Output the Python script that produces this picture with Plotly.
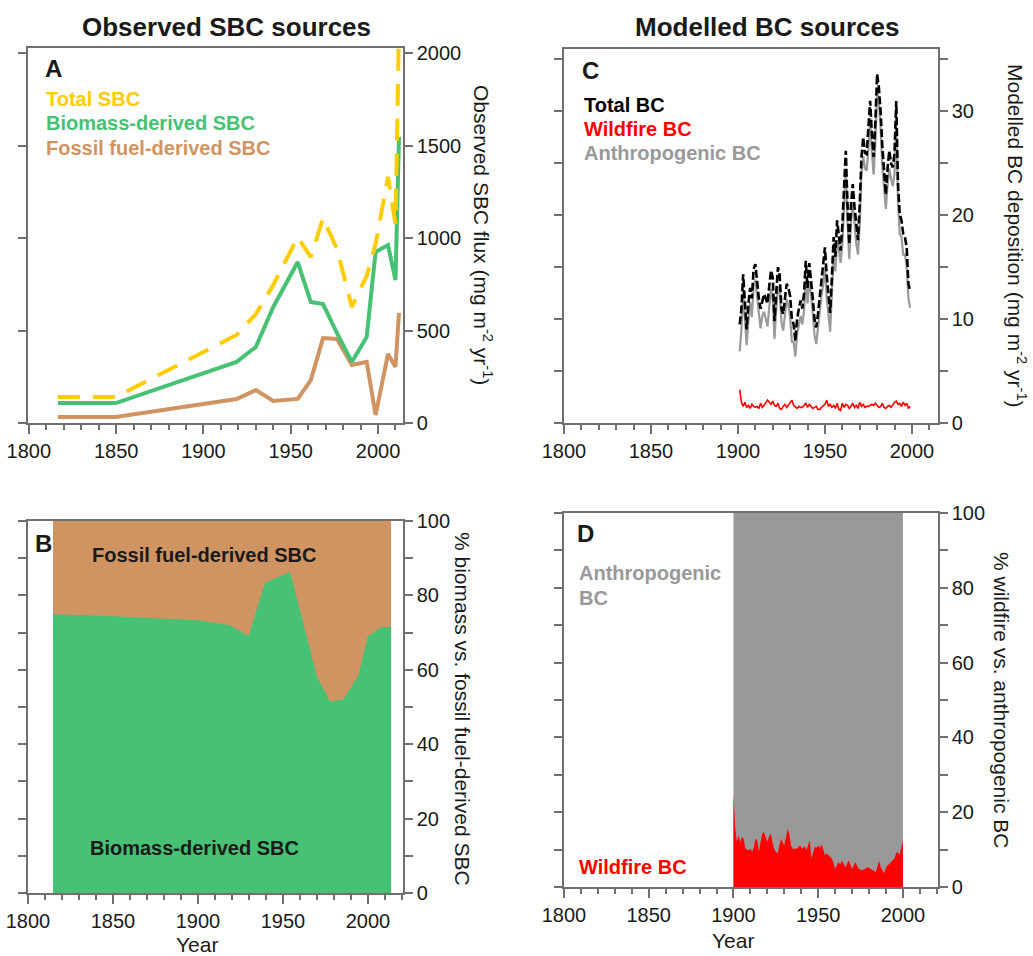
import plotly.graph_objects as go

# ---------------- DATA ----------------
# Panel A: observed SBC flux (mg m-2 yr-1)
a_years = [1816.6, 1849.8, 1919, 1930, 1940, 1954, 1961.5, 1968.5, 1976.5, 1985, 1993.5, 1998.6, 2005.7, 2010, 2012]
a_total = [140, 140, 476, 589, 746, 1005, 897, 1108, 940, 627, 795, 967, 1330, 1076, 2141]
a_biomass = [108, 108, 330, 411, 627, 870, 654, 643, 486, 330, 465, 924, 962, 773, 1546]
a_fossil = [32, 32, 130, 178, 119, 130, 232, 459, 454, 314, 330, 43, 373, 303, 595]

# Panel B: % biomass-derived SBC
b_years = [1814.7, 1850, 1900, 1918.9, 1929.7, 1939.5, 1954.2, 1970, 1977.8, 1985.7, 1994.5, 1999.8, 2007.3, 2013.6]
b_biomass_pct = [74.9, 74.4, 73.3, 72.0, 69.1, 83.4, 86.3, 58.1, 51.4, 52.1, 58.6, 68.9, 71.4, 71.6]
b_span = [1814.7, 2013.6]
b_full = [100, 100]

# Panel C: modelled BC deposition (mg m-2 yr-1), 1901-1999
c_years = list(range(1901, 2000))
c_total = [9.5, 11.0, 14.3, 12.0, 9.0, 11.5, 13.0, 12.0, 14.8, 15.3,
           13.5, 12.0, 11.0, 11.8, 12.4, 12.0, 11.5, 13.2, 14.7, 14.0,
           9.8, 12.5, 15.0, 14.2, 11.0, 10.5, 12.0, 13.4, 13.0, 12.2,
           10.0, 9.5, 7.9, 10.0, 11.0, 11.8, 11.0, 12.5, 15.6, 13.0,
           15.4, 14.0, 12.0, 10.0, 9.2, 10.5, 12.0, 13.7, 15.0, 16.9,
           14.3, 12.0, 10.6, 14.0, 17.9, 16.0, 19.5, 18.0, 16.6, 19.0,
           22.0, 26.2, 21.0, 17.2, 21.0, 23.0, 20.8, 19.0, 17.6, 21.0,
           25.6, 27.5, 26.0, 25.9, 28.0, 31.0, 27.8, 25.6, 29.0, 33.6,
           32.3, 30.0, 26.6, 24.0, 22.0, 24.5, 26.2, 25.0, 24.6, 26.0,
           31.0, 23.0, 20.1, 19.5, 18.2, 17.9, 16.9, 13.4, 12.7]
c_wildfire = [3.2, 2.0, 1.6, 2.0, 1.5, 1.7, 1.4, 1.8, 1.6, 1.5,
              1.6, 1.4, 1.9, 1.5, 1.7, 1.9, 2.2, 2.0, 1.8, 2.1,
              1.7, 1.6, 1.9, 1.4, 1.3, 1.6, 1.8, 1.5, 1.7, 2.0,
              2.2, 1.7, 1.5, 1.4, 1.6, 1.5, 1.5, 1.7, 1.9, 1.5,
              1.8, 1.6, 1.4, 1.5, 1.6, 1.3, 1.3, 1.5, 1.7, 1.8,
              2.2, 1.6, 1.8, 1.5, 1.7, 1.4, 1.9, 1.3, 1.2, 1.9,
              1.5, 1.8, 1.7, 1.4, 1.6, 1.9, 1.5, 1.7, 1.4, 2.0,
              1.6, 1.8, 1.5, 1.6, 1.6, 1.7, 1.8, 1.7, 1.9, 1.7,
              1.5, 1.6, 1.9, 1.5, 1.4, 1.6, 1.7, 1.5, 1.8, 2.0,
              2.1, 1.8, 1.9, 1.6, 2.0, 1.7, 1.9, 1.4, 1.6]
c_anthro = [6.9, 9.0, 12.7, 10.0, 7.5, 9.8, 11.6, 10.2, 13.2, 13.8,
            11.9, 10.6, 9.1, 10.3, 10.7, 10.1, 9.3, 11.2, 12.9, 11.9,
            8.1, 10.9, 13.1, 12.8, 9.7, 8.9, 10.2, 11.9, 11.3, 10.2,
            7.8, 7.8, 6.4, 8.6, 9.4, 10.3, 9.5, 10.8, 13.7, 11.5,
            13.6, 12.4, 10.6, 8.5, 7.6, 9.2, 10.7, 12.2, 13.3, 15.1,
            12.1, 10.4, 8.8, 12.5, 16.2, 14.6, 17.6, 16.7, 15.4, 17.1,
            20.5, 24.4, 19.3, 15.8, 19.4, 21.1, 19.3, 17.3, 16.2, 19.0,
            24.0, 25.7, 24.5, 24.3, 26.4, 29.3, 26.0, 23.9, 27.1, 31.9,
            30.8, 28.4, 24.7, 22.5, 20.6, 22.9, 24.5, 23.5, 22.8, 24.0,
            28.9, 21.2, 18.2, 17.9, 16.2, 16.2, 15.0, 12.0, 11.1]

# Panel D: % wildfire BC, 1900-2000
d_years = list(range(1900, 2001))
d_wildfire_pct = [25, 16, 12, 13.8, 12, 13.4, 13, 10.2, 10, 9.8,
                  10.2, 9.4, 10.5, 12.9, 12.5, 9.4, 12, 14.3, 14.7, 13.5,
                  12, 13.5, 14.3, 12, 10.2, 9.5, 8.9, 11, 12.9, 12,
                  11.1, 13.5, 15.6, 14, 11, 10.2, 10.2, 10.2, 10.5, 11.1,
                  10.6, 10.2, 11, 9.8, 11, 12.5, 7.6, 9.5, 10.7, 10.5,
                  11.1, 10.5, 11.4, 10, 8.5, 9, 8.5, 8, 7.6, 6.5,
                  4.9, 5.8, 6.7, 6, 7.1, 6.2, 5.3, 6.2, 7.1, 6,
                  4.9, 5.8, 6.7, 5.6, 4.9, 4.6, 4.5, 4.7, 4.9, 5.3,
                  5.1, 4.9, 4.6, 4.3, 4.0, 5.5, 7.0, 5.2, 4.5, 3.7,
                  5.3, 5.8, 6.2, 6.6, 7.3, 7.6, 9.0, 9.4, 8.5, 11,
                  12.5]
d_span = [1900, 2000]
d_full = [100, 100]

x_ticks = [1800, 1850, 1900, 1950, 2000]
a_ticks = [0, 500, 1000, 1500, 2000]
pct_ticks = [0, 20, 40, 60, 80, 100]
c_ticks = [0, 10, 20, 30]

# ---------------- STYLE ----------------
W, H = 1033, 956
FONT = "Liberation Sans, Arial, Helvetica, sans-serif"
AXC = "#707070"
TXT = "#1a1a1a"
GOLD = "#FFCC00"
GREEN = "#47C173"
BROWN = "#D09463"
GRAY = "#999999"
RED = "#FF0000"


def px(x, y):
    return x / W, 1 - y / H


def dom_x(a, b):
    return [a / W, b / W]


def dom_y(top, bottom):
    return [1 - bottom / H, 1 - top / H]


fig = go.Figure()

# Panel A
fig.add_trace(go.Scatter(x=a_years, y=a_fossil, mode="lines", line=dict(color=BROWN, width=4),
                         xaxis="x", yaxis="y"))
fig.add_trace(go.Scatter(x=a_years, y=a_biomass, mode="lines", line=dict(color=GREEN, width=4),
                         xaxis="x", yaxis="y"))
fig.add_trace(go.Scatter(x=a_years, y=a_total, mode="lines",
                         line=dict(color=GOLD, width=4, dash="22px,13px"),
                         xaxis="x", yaxis="y"))

# Panel B
fig.add_trace(go.Scatter(x=b_span, y=b_full, mode="lines", line=dict(width=0),
                         fill="tozeroy", fillcolor=BROWN, xaxis="x2", yaxis="y2"))
fig.add_trace(go.Scatter(x=b_years, y=b_biomass_pct, mode="lines", line=dict(width=0),
                         fill="tozeroy", fillcolor=GREEN, xaxis="x2", yaxis="y2"))

# Panel C
fig.add_trace(go.Scatter(x=c_years, y=c_anthro, mode="lines", line=dict(color="#9a9a9a", width=2.2),
                         xaxis="x3", yaxis="y3"))
fig.add_trace(go.Scatter(x=c_years, y=c_total, mode="lines",
                         line=dict(color="#000000", width=2.6, dash="8px,3px"),
                         xaxis="x3", yaxis="y3"))
fig.add_trace(go.Scatter(x=c_years, y=c_wildfire, mode="lines", line=dict(color=RED, width=1.6),
                         xaxis="x3", yaxis="y3"))

# Panel D
fig.add_trace(go.Scatter(x=d_span, y=d_full, mode="lines", line=dict(width=0),
                         fill="tozeroy", fillcolor=GRAY, xaxis="x4", yaxis="y4"))
fig.add_trace(go.Scatter(x=d_years, y=d_wildfire_pct, mode="lines", line=dict(width=0),
                         fill="tozeroy", fillcolor=RED, xaxis="x4", yaxis="y4"))


def xaxis(domain, rng, anchor):
    return dict(domain=domain, range=rng, anchor=anchor, tickmode="array", tickvals=x_ticks,
                ticks="outside", ticklen=9, tickwidth=1.5, tickcolor=AXC,
                showline=True, linecolor=AXC, linewidth=1.5, mirror=True, showgrid=False, zeroline=False,
                automargin=False,
                tickfont=dict(family=FONT, size=20, color=TXT),
                minor=dict(tickmode="linear", tick0=1800, dtick=10, ticks="outside", ticklen=5,
                           tickwidth=1.5, tickcolor=AXC, showgrid=False))


def yaxis(domain, rng, anchor, vals, minor_step=None):
    d = dict(domain=domain, range=rng, anchor=anchor, side="right", tickmode="array",
             tickvals=vals, ticks="outside", ticklen=8, tickwidth=1.5, tickcolor=AXC,
             showline=True, linecolor=AXC, linewidth=1.5, mirror="ticks", showgrid=False,
             zeroline=False, automargin=False, tickfont=dict(family=FONT, size=20, color=TXT))
    if minor_step:
        d["minor"] = dict(tickmode="linear", tick0=0, dtick=minor_step, ticks="outside", ticklen=8,
                          tickwidth=1.5, tickcolor=AXC, showgrid=False)
    return d


xa = dom_x(28, 403)
xc = dom_x(564, 938)

fig.update_layout(
    template="none",
    width=W, height=H, margin=dict(l=0, r=0, t=0, b=0),
    paper_bgcolor="white", plot_bgcolor="white", showlegend=False, hovermode=False,
    xaxis=xaxis(xa, [1799.5, 2014.3], "y"),
    yaxis=yaxis(dom_y(48, 423), [0, 2027], "x", a_ticks),
    xaxis2=xaxis(xa, [1800, 2020.6], "y2"),
    yaxis2=yaxis(dom_y(521, 893), [0, 100], "x2", pct_ticks, 10),
    xaxis3=xaxis(xc, [1800, 2015], "y3"),
    yaxis3=yaxis(dom_y(49, 423), [0, 36], "x3", c_ticks, 5),
    xaxis4=xaxis(xc, [1800, 2020.7], "y4"),
    yaxis4=yaxis(dom_y(513, 887), [0, 100], "x4", pct_ticks, 10),
)

annos = []


def add_text(x, y, text, size=20, color=TXT, bold=True, xanchor="left", angle=0, family=FONT):
    xp, yp = px(x, y)
    t = f"<b>{text}</b>" if bold else text
    annos.append(dict(x=xp, y=yp, xref="paper", yref="paper", text=t, showarrow=False,
                      xanchor=xanchor, yanchor="middle", textangle=angle,
                      font=dict(family=family, size=size, color=color)))


add_text(226, 27, "Observed SBC sources", size=26, xanchor="center")
add_text(767, 27, "Modelled BC sources", size=26, xanchor="center")

# Panel letters
add_text(53, 68, "A", size=24, xanchor="center")
add_text(43, 543, "B", size=24, xanchor="center")
add_text(590, 70, "C", size=24, xanchor="center")
add_text(585, 533, "D", size=24, xanchor="center")

# Panel A legend
add_text(44, 99, "Total SBC", color=GOLD)
add_text(44, 123, "Biomass-derived SBC", color=GREEN)
add_text(44, 148, "Fossil fuel-derived SBC", color=BROWN)

# Panel B labels
add_text(204, 555, "Fossil fuel-derived SBC", xanchor="center")
add_text(194, 848, "Biomass-derived SBC", xanchor="center")

# Panel C legend
add_text(582, 105, "Total BC", color="#000000")
add_text(582, 129, "Wildfire BC", color=RED)
add_text(582, 153, "Anthropogenic BC", color=GRAY)

# Panel D labels
add_text(577, 573, "Anthropogenic", color=GRAY)
add_text(577, 598, "BC", color=GRAY)
add_text(577, 867, "Wildfire BC", color=RED)

# Axis titles
add_text(483, 235, "Observed SBC flux (mg m<sup>-2</sup> yr<sup>-1</sup>)", size=21, bold=False,
         xanchor="center", angle=90)
add_text(463, 709, "% biomass vs. fossil fuel-derived SBC", size=21, bold=False,
         xanchor="center", angle=90)
add_text(1017, 236, "Modelled BC deposition (mg m<sup>-2</sup> yr<sup>-1</sup>)", size=21, bold=False,
         xanchor="center", angle=90)
add_text(1002, 700, "% wildfire vs. anthropogenic BC", size=21, bold=False,
         xanchor="center", angle=90)
add_text(197, 944, "Year", size=21, bold=False, xanchor="center")
add_text(733, 940, "Year", size=21, bold=False, xanchor="center")

fig.update_layout(annotations=annos)

fig.write_html("out.html")
